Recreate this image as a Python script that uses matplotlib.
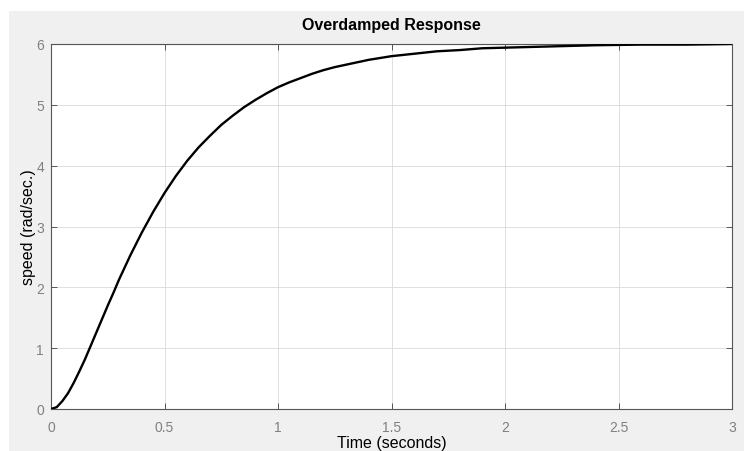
import matplotlib
matplotlib.use("Agg")
import matplotlib.pyplot as plt
from matplotlib.patches import Rectangle

plt.rcParams['font.family'] = ['Liberation Sans', 'DejaVu Sans']

# Data (time in seconds, speed in rad/sec.)
time_s = [0.0, 0.025, 0.05, 0.075, 0.1, 0.125, 0.15, 0.175, 0.2, 0.225,
          0.25, 0.275, 0.3, 0.35, 0.4, 0.45, 0.5,
          0.55, 0.6, 0.65, 0.7, 0.75, 0.8, 0.85, 0.9, 0.95, 1.0,
          1.05, 1.1, 1.15, 1.2, 1.25, 1.3, 1.35, 1.4, 1.45, 1.5,
          1.6, 1.7, 1.8, 1.9, 2.0, 2.2, 2.4, 2.6, 2.8, 3.0]
speed = [0.0, 0.03, 0.13, 0.26, 0.43, 0.62, 0.82, 1.04, 1.26, 1.48,
         1.70, 1.91, 2.13, 2.53, 2.90, 3.24, 3.55,
         3.83, 4.08, 4.30, 4.49, 4.67, 4.82, 4.96, 5.08, 5.19, 5.29,
         5.37, 5.44, 5.51, 5.57, 5.62, 5.66, 5.70, 5.74, 5.77, 5.80,
         5.84, 5.88, 5.90, 5.93, 5.94, 5.96, 5.98, 5.99, 5.99, 6.0]
steady_state = 6.0

x_ticks = [0, 0.5, 1, 1.5, 2, 2.5, 3]
x_tick_labels = ['0', '0.5', '1', '1.5', '2', '2.5', '3']
y_ticks = [0, 1, 2, 3, 4, 5, 6]
y_tick_labels = ['0', '1', '2', '3', '4', '5', '6']

W, H = 744, 452
fig = plt.figure(figsize=(W / 100, H / 100), dpi=100, facecolor='white')
fig.patches.append(Rectangle((9 / W, 0), 1 - 9 / W, (H - 12) / H,
                             transform=fig.transFigure, facecolor='#f0f0f0',
                             edgecolor='none', zorder=-10))

ax = fig.add_axes([51 / W, (H - 410) / H, 681 / W, 365 / H])
ax.set_zorder(5)
ax.set_facecolor('white')

ax.plot([0, 3], [steady_state, steady_state], linestyle=':', color='#333333',
        linewidth=0.8, zorder=2)
ax.plot(time_s, speed, color='black', linewidth=1.7, zorder=3,
        solid_capstyle='butt', solid_joinstyle='round')

ax.set_xlim(0, 3)
ax.set_ylim(0, 6)
ax.set_xticks(x_ticks)
ax.set_xticklabels(x_tick_labels)
ax.set_yticks(y_ticks)
ax.set_yticklabels(y_tick_labels)

ax.grid(True, color='#dedede', linewidth=0.7)
ax.set_axisbelow(True)

for s in ax.spines.values():
    s.set_color('#555555')
    s.set_linewidth(0.8)

ax.tick_params(direction='in', length=4.5, width=0.7, color='#555555',
               labelcolor='#808080', labelsize=10, top=True, right=True)
ax.tick_params(axis='x', pad=8)
ax.tick_params(axis='y', pad=5)

ax.set_title('Overdamped Response', fontsize=11.5, fontweight='bold', pad=11)
ax.set_xlabel('Time (seconds)', fontsize=11.5, labelpad=0.5)
ax.set_ylabel('speed (rad/sec.)', fontsize=11.5, labelpad=0)

fig.savefig('out.png', dpi=100, facecolor=fig.get_facecolor())
